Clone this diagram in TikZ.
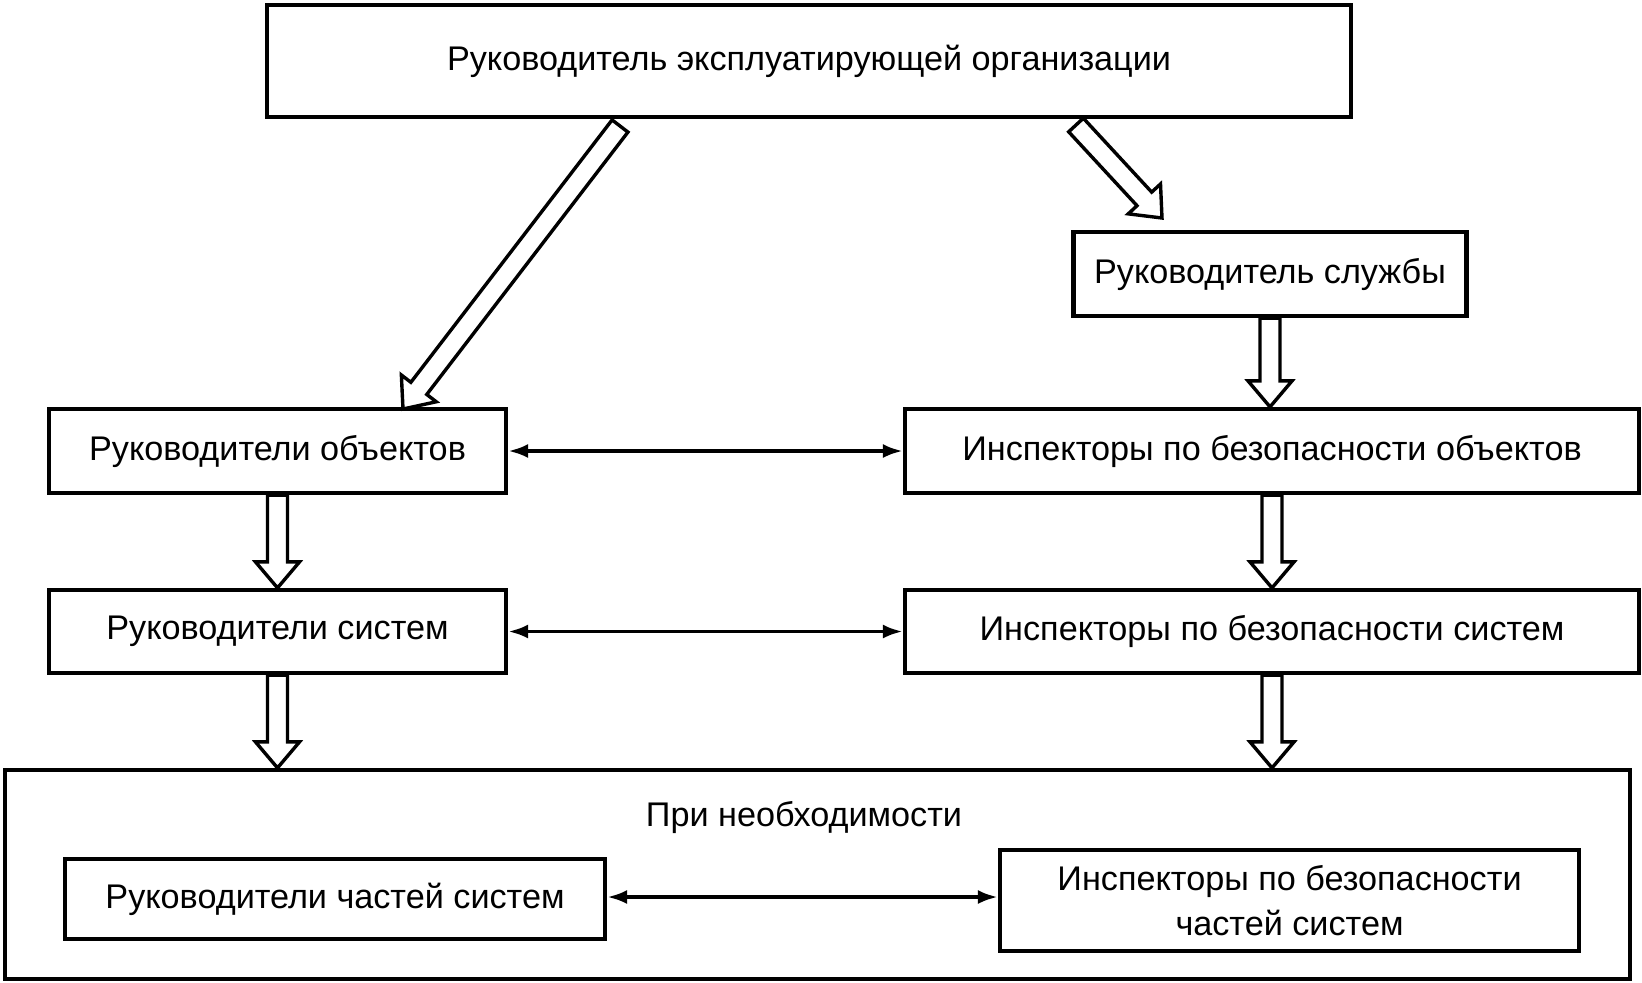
\documentclass[tikz,border=0pt]{standalone}
\usepackage{fontspec}
\setmainfont{Liberation Sans}
\usetikzlibrary{calc,arrows.meta}
\newcommand\hollowarr[3]{%
  \coordinate (#3h) at ($(#2)!13pt!(#1)$);
  \draw[harrow] ($(#1)!5pt!90:(#2)$) -- ($(#3h)!5pt!90:(#2)$) -- ($(#3h)!11pt!90:(#2)$) -- (#2)
    -- ($(#3h)!11pt!-90:(#2)$) -- ($(#3h)!5pt!-90:(#2)$) -- ($(#1)!5pt!-90:(#2)$) -- cycle;}
\begin{document}
\begin{tikzpicture}[x=0.5pt,y=-0.5pt,
  box/.style={draw,line width=2.1pt,inner sep=0pt,align=center,font=\fontsize{17.1}{20.5}\selectfont},
  harrow/.style={draw,line width=1.7pt,fill=white,line join=miter},
  link/.style={line width=1.9pt,{Latex[length=10pt,width=7pt]}-{Latex[length=10pt,width=7pt]}},
  lbl/.style={font=\fontsize{17.1}{20.5}\selectfont}]
\useasboundingbox (0,0) rectangle (1642,982);
\node[box,minimum width=542pt,minimum height=56pt] (top) at (809,61) {Руководитель эксплуатирующей организации};
\node[box,minimum width=196.5pt,minimum height=42pt] (sl) at (1270,274) {Руководитель службы};
\node[box,minimum width=228.5pt,minimum height=42pt] (ro) at (277.5,451) {Руководители объектов};
\node[box,minimum width=367pt,minimum height=42pt] (io) at (1272,451) {Инспекторы по безопасности объектов};
\node[box,minimum width=228.5pt,minimum height=41.5pt] (rs) at (277.5,631.5) {Руководители систем};
\node[box,minimum width=367pt,minimum height=41.5pt] (is) at (1272,631.5) {Инспекторы по безопасности систем};
\node[box,minimum width=812.5pt,minimum height=104.5pt] (big) at (817.5,874.5) {};
\node[lbl] (need) at (804,817) {При необходимости};
\node[box,minimum width=270pt,minimum height=40pt] (rc) at (335,899) {Руководители частей систем};
\node[box,minimum width=289.5pt,minimum height=50.5pt] (ic) at (1289.5,900.5) {Инспекторы по безопасности\\[2pt]частей систем};
% hollow arrows
\coordinate (dlt) at (620,126);
\coordinate (dlh) at (403,409);
\coordinate (drt) at (1076,125);
\coordinate (drh) at (1162,218);
\hollowarr{dlt}{dlh}{a1}
\hollowarr{drt}{drh}{a2}
\coordinate (s1) at (sl.south);
\coordinate (s1e) at (sl.south |- io.north);
\hollowarr{s1}{s1e}{a3}
\coordinate (r1) at (ro.south);
\coordinate (r1e) at (ro.south |- rs.north);
\hollowarr{r1}{r1e}{a4}
\coordinate (r2) at (rs.south);
\coordinate (r2e) at (rs.south |- big.north);
\hollowarr{r2}{r2e}{a5}
\coordinate (i1) at (io.south);
\coordinate (i1e) at (io.south |- is.north);
\hollowarr{i1}{i1e}{a6}
\coordinate (i2) at (is.south);
\coordinate (i2e) at (is.south |- big.north);
\hollowarr{i2}{i2e}{a7}
% links
\draw[link] (ro.east) -- (io.west);
\draw[link] (rs.east) -- (is.west);
\coordinate (c1) at ($(rc.east)+(0,-2)$);
\coordinate (c2) at (c1 -| ic.west);
\draw[link] (c1) -- (c2);
\end{tikzpicture}
\end{document}
